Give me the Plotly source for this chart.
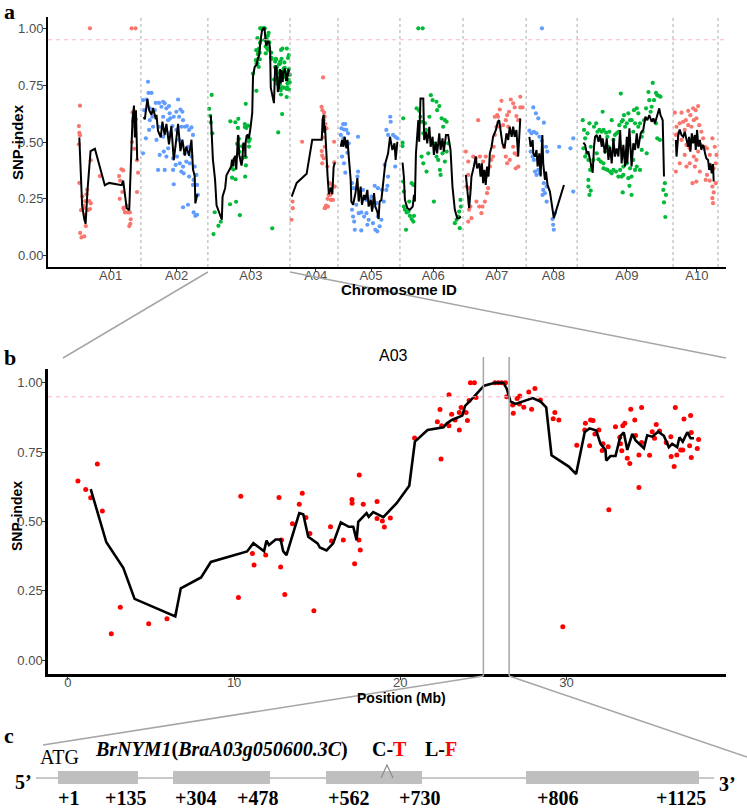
import plotly.graph_objects as go

W, H = 747, 808

# ---------------- data ----------------
chromosomes = ["A01", "A02", "A03", "A04", "A05", "A06", "A07", "A08", "A09", "A10"]
chrom_length_mb = [36.1, 31.0, 38.0, 22.2, 28.7, 29.2, 29.2, 23.6, 44.4, 20.8]
chrom_label_mb = [22.1, 16.5, 19.9, 11.9, 15.3, 15.4, 15.6, 12.6, 23.0, 11.0]
chrom_colors = ["#F8766D", "#619CFF", "#00BA38"]
threshold = 0.95
y_ticks = [0.0, 0.25, 0.5, 0.75, 1.0]

# A03 (panel b, positions in Mb)
b_points = [(0.6, 0.646), (1.07, 0.615), (1.77, 0.707), (1.37, 0.586), (2.07, 0.538), (3.15, 0.191),
            (2.61, 0.095), (4.86, 0.131), (5.96, 0.149), (10.4, 0.591), (10.26, 0.226), (12.7, 0.587),
            (11.1, 0.385), (11.2, 0.343), (11.9, 0.379), (12.8, 0.336), (12.85, 0.433), (13.05, 0.237),
            (14.8, 0.178), (14.1, 0.602), (13.92, 0.562), (13.51, 0.492), (14.32, 0.514), (14.56, 0.457),
            (15.8, 0.481), (15.86, 0.43), (16.57, 0.433), (17.09, 0.579), (17.1, 0.566), (17.53, 0.668),
            (17.77, 0.562), (17.25, 0.348), (17.59, 0.397), (17.51, 0.433), (18.6, 0.572), (18.6, 0.511),
            (18.92, 0.502), (19.04, 0.48), (19.4, 0.513), (20.86, 0.801), (22.45, 0.725), (22.39, 0.904),
            (22.23, 0.86), (22.49, 0.845), (22.93, 0.845), (22.93, 0.957), (23.09, 0.887), (23.3, 0.866),
            (23.55, 0.893), (23.66, 0.911), (23.55, 0.83), (23.96, 0.893), (24.04, 0.864), (24.14, 0.936),
            (24.56, 0.947), (24.22, 1.0), (24.46, 1.0), (25.7, 1.0), (25.9, 1.0), (26.1, 1.0), (26.33, 1.0),
            (26.4, 0.95), (26.76, 0.92), (26.8, 0.89), (27.03, 0.944), (27.19, 0.953), (27.17, 0.924),
            (27.43, 0.912), (27.73, 0.967), (27.9, 0.905), (28.1, 0.98), (28.43, 0.938), (29.3, 0.893),
            (29.2, 0.871), (29.54, 0.866), (29.78, 0.12), (30.62, 0.775), (31.14, 0.854), (31.1, 0.83),
            (31.45, 0.866), (31.6, 0.864), (31.39, 0.773), (31.95, 0.83), (31.71, 0.816), (32.15, 0.756),
            (32.2, 0.78), (32.51, 0.77), (32.55, 0.542), (32.95, 0.842), (33.21, 0.804), (33.39, 0.845),
            (33.51, 0.854), (33.33, 0.755), (33.25, 0.78), (33.66, 0.728), (33.81, 0.709), (33.87, 0.905),
            (34.11, 0.866), (34.16, 0.81), (34.36, 0.74), (34.36, 0.623), (34.52, 0.911), (34.52, 0.785),
            (35.0, 0.739), (35.16, 0.824), (35.4, 0.85), (35.6, 0.826), (35.3, 0.8), (36.0, 0.785),
            (36.28, 0.806), (36.3, 0.734), (36.48, 0.698), (36.55, 0.911), (36.64, 0.74), (36.87, 0.758),
            (37.0, 0.758), (37.07, 0.87), (37.47, 0.882), (37.51, 0.821), (37.41, 0.773), (37.51, 0.731),
            (37.95, 0.796), (37.87, 0.763)]
b_line_pos = [1.37, 2.31, 3.33, 4.01, 6.46, 6.79, 8.01, 8.6, 10.78, 11.16, 11.8, 11.95, 12.1, 12.5, 12.8,
              12.95, 13.15, 13.92, 14.16, 14.46, 15.02, 15.16, 15.56, 15.96, 16.42, 16.9, 17.17, 17.37,
              17.47, 17.97, 18.1, 18.37, 18.98, 19.78, 20.54, 20.88, 21.64, 22.6, 22.8, 23.1, 23.73, 23.9,
              24.3, 25.04, 25.7, 26.2, 26.4, 26.63, 26.93, 27.43, 27.97, 28.43, 28.78, 29.1, 30.14, 30.58,
              31.1, 31.39, 31.79, 32.05, 32.35, 32.39, 32.65, 32.95, 33.25, 33.45, 33.66, 33.96, 34.16,
              34.66, 34.86, 35.16, 35.52, 35.86, 36.16, 36.36, 36.66, 36.8, 37.0, 37.27, 37.47, 37.67]
b_line_val = [0.617, 0.425, 0.333, 0.221, 0.158, 0.259, 0.298, 0.354, 0.392, 0.422, 0.393, 0.431, 0.415,
              0.435, 0.435, 0.393, 0.379, 0.53, 0.526, 0.445, 0.421, 0.406, 0.396, 0.421, 0.497, 0.481,
              0.481, 0.433, 0.499, 0.53, 0.517, 0.534, 0.516, 0.566, 0.629, 0.788, 0.83, 0.84, 0.854,
              0.866, 0.882, 0.917, 0.941, 0.99, 1.0, 1.0, 0.98, 0.933, 0.924, 0.933, 0.945, 0.933, 0.912,
              0.739, 0.698, 0.671, 0.823, 0.836, 0.828, 0.78, 0.758, 0.72, 0.736, 0.736, 0.809, 0.821,
              0.758, 0.816, 0.792, 0.764, 0.811, 0.806, 0.824, 0.809, 0.768, 0.78, 0.768, 0.804, 0.788,
              0.822, 0.8, 0.8]
region_mb = [25.0, 26.55]
b_xticks = [0, 10, 20, 30]

# panel a: points / sliding-window line per chromosome (position within chromosome, Mb)
a01_points = [(12.5, 1.0), (31.8, 1.0), (33.6, 1.0), (7.9, 0.66), (7.4, 0.57), (7.6, 0.54), (7.9, 0.53),
              (7.6, 0.32), (9.4, 0.22), (10.2, 0.18), (8.6, 0.08), (9.9, 0.085), (10.6, 0.13), (10.9, 0.27),
              (11.2, 0.29), (12.2, 0.24), (12.5, 0.205), (12.9, 0.23), (12.9, 0.42), (17.1, 0.35),
              (26.0, 0.35), (27.1, 0.38), (27.9, 0.375), (26.3, 0.25), (28.2, 0.205), (28.7, 0.19),
              (31.0, 0.19), (31.4, 0.16), (30.7, 0.13), (32.2, 0.63), (32.5, 0.59), (33.3, 0.57),
              (34.3, 0.42), (34.8, 0.365), (34.3, 0.28), (7.4, 0.49), (8.0, 0.1), (8.4, 0.2), (9.0, 0.26),
              (9.6, 0.21), (10.3, 0.24), (11.5, 0.2), (26.5, 0.33), (27.5, 0.28), (28.0, 0.21), (29.5, 0.22),
              (30.0, 0.19), (31.2, 0.14), (32.0, 0.5), (33.0, 0.47), (33.8, 0.6)]
a01_line = [(7.6, 0.52), (8.9, 0.22), (9.9, 0.16), (10.5, 0.14), (11.4, 0.29), (12.5, 0.45), (12.8, 0.46),
            (14.8, 0.47), (19.4, 0.31), (21.4, 0.32), (27.2, 0.31), (27.9, 0.33), (28.7, 0.27), (29.5, 0.21),
            (30.7, 0.2), (31.5, 0.41), (32.2, 0.6), (32.9, 0.66), (33.3, 0.52), (33.8, 0.64), (34.4, 0.42)]

a02_points = [(3.3, 0.765), (4.9, 0.716), (3.5, 0.716), (1.0, 0.684), (2.6, 0.687), (1.5, 0.64), (4.1, 0.648),
              (6.9, 0.672), (8.4, 0.672), (10.3, 0.677), (11.0, 0.67), (13.0, 0.658), (17.2, 0.687),
              (16.4, 0.633), (18.3, 0.643), (19.2, 0.633), (2.3, 0.516), (3.8, 0.553), (5.6, 0.567),
              (8.4, 0.567), (10.3, 0.611), (12.6, 0.596), (13.6, 0.604), (14.6, 0.57), (16.4, 0.553),
              (19.5, 0.596), (20.3, 0.567), (21.3, 0.57), (23.4, 0.564), (1.0, 0.45), (8.7, 0.443),
              (10.6, 0.458), (11.8, 0.436), (12.6, 0.472), (14.9, 0.428), (16.1, 0.399), (18.0, 0.406),
              (19.5, 0.392), (21.0, 0.414), (22.6, 0.406), (7.95, 0.377), (11.0, 0.377), (14.9, 0.377),
              (18.7, 0.37), (19.8, 0.362), (15.2, 0.314), (22.3, 0.348), (24.1, 0.311), (25.7, 0.355),
              (26.0, 0.311), (26.4, 0.267), (24.4, 0.333), (19.5, 0.213), (21.8, 0.224), (24.4, 0.19),
              (25.2, 0.175), (26.0, 0.18), (6.4, 0.64), (9.5, 0.655), (11.8, 0.648), (13.3, 0.626),
              (15.2, 0.611), (17.7, 0.611), (18.7, 0.567), (22.3, 0.553), (24.1, 0.531), (13.3, 0.538),
              (17.7, 0.509), (21.8, 0.479), (7.2, 0.509), (4.1, 0.596), (5.3, 0.611), (10.3, 0.523),
              (16.7, 0.436), (20.3, 0.45), (23.4, 0.436), (24.9, 0.392)]
a02_line = [(1.3, 0.61), (1.8, 0.6), (3.0, 0.69), (3.8, 0.64), (4.9, 0.62), (5.6, 0.65), (6.9, 0.6), (7.2, 0.62),
            (7.9, 0.55), (9.2, 0.52), (9.95, 0.59), (11.0, 0.53), (11.8, 0.58), (13.0, 0.49), (14.1, 0.57),
            (15.2, 0.42), (16.1, 0.49), (17.2, 0.58), (18.3, 0.46), (19.2, 0.51), (20.3, 0.44), (21.0, 0.48),
            (22.3, 0.44), (23.4, 0.51), (24.1, 0.38), (24.9, 0.35), (25.2, 0.23), (26.1, 0.27)]

a03_points = b_points
a03_line = list(zip(b_line_pos, b_line_val))

a04_points = [(15.3, 0.784), (5.6, 0.501), (1.2, 0.238), (0.7, 0.158), (1.3, 0.209), (14.6, 0.655),
              (15.0, 0.64), (15.8, 0.629), (16.1, 0.611), (15.6, 0.596), (16.4, 0.579), (16.9, 0.56),
              (16.1, 0.479), (15.6, 0.428), (14.9, 0.406), (20.4, 0.501), (17.3, 0.392), (18.4, 0.319),
              (19.5, 0.311), (20.7, 0.304), (18.9, 0.275), (17.9, 0.267), (16.1, 0.209), (17.6, 0.216),
              (18.9, 0.245), (19.9, 0.245), (18.6, 0.267), (14.7, 0.46), (14.9, 0.44), (15.2, 0.52),
              (20.5, 0.41), (16.3, 0.21), (16.7, 0.22), (17.4, 0.25)]
a04_line = [(0.8, 0.26), (3.1, 0.32), (7.7, 0.36), (10.3, 0.51), (14.7, 0.51), (15.1, 0.6), (15.6, 0.62),
            (15.9, 0.54), (16.2, 0.57), (16.7, 0.45), (17.4, 0.35), (18.0, 0.27), (19.0, 0.3), (19.6, 0.27),
            (20.2, 0.39), (20.8, 0.41)]

a05_points = [(2.4, 0.579), (3.4, 0.579), (1.6, 0.56), (2.8, 0.555), (3.9, 0.553), (1.3, 0.531), (2.5, 0.516),
              (3.1, 0.494), (4.7, 0.538), (5.0, 0.494), (4.4, 0.453), (2.8, 0.406), (3.4, 0.365), (1.9, 0.436),
              (9.3, 0.523), (6.5, 0.319), (7.1, 0.297), (6.5, 0.202), (7.0, 0.172), (7.5, 0.15), (7.8, 0.114),
              (10.8, 0.111), (9.0, 0.348), (9.3, 0.37), (9.6, 0.187), (10.8, 0.19), (12.1, 0.172),
              (13.2, 0.187), (14.2, 0.158), (13.6, 0.136), (16.2, 0.143), (17.3, 0.114), (18.2, 0.107),
              (18.5, 0.172), (20.1, 0.158), (19.3, 0.129), (17.0, 0.307), (18.5, 0.297), (20.4, 0.289),
              (21.2, 0.238), (22.4, 0.289), (22.9, 0.307), (23.2, 0.348), (21.6, 0.399), (22.4, 0.553),
              (23.2, 0.531), (24.2, 0.611), (24.4, 0.589), (25.5, 0.531), (26.5, 0.523), (27.5, 0.516),
              (26.5, 0.392), (12.4, 0.253), (13.2, 0.245), (14.7, 0.245), (15.5, 0.26), (17.8, 0.231),
              (16.2, 0.216), (8.5, 0.224), (11.6, 0.289)]
a05_line = [(1.3, 0.479), (1.9, 0.509), (2.5, 0.479), (3.1, 0.523), (3.9, 0.472), (4.4, 0.509), (5.0, 0.436),
            (5.9, 0.333), (6.2, 0.238), (7.0, 0.224), (8.1, 0.275), (9.0, 0.341), (9.6, 0.238), (10.5, 0.304),
            (11.1, 0.224), (12.1, 0.267), (12.7, 0.245), (13.6, 0.289), (14.2, 0.216), (15.2, 0.245),
            (15.8, 0.194), (16.7, 0.275), (17.3, 0.216), (18.2, 0.194), (18.8, 0.161), (19.3, 0.238),
            (20.1, 0.245), (21.3, 0.362), (21.9, 0.406), (23.2, 0.45), (24.1, 0.523), (25.2, 0.465),
            (26.2, 0.494), (26.7, 0.421), (27.5, 0.501)]

a06_points = [(8.5, 1.0), (10.5, 1.0), (1.5, 0.604), (1.2, 0.497), (1.2, 0.482), (1.5, 0.326), (1.8, 0.282),
              (1.8, 0.216), (2.3, 0.202), (3.1, 0.19), (3.9, 0.194), (4.6, 0.175), (5.4, 0.161), (6.2, 0.15),
              (6.5, 0.175), (2.8, 0.114), (4.3, 0.238), (5.4, 0.319), (6.2, 0.311), (7.7, 0.648), (8.9, 0.637),
              (9.5, 0.611), (10.0, 0.589), (10.8, 0.538), (11.6, 0.582), (12.0, 0.553), (12.6, 0.523),
              (13.6, 0.611), (14.3, 0.706), (15.1, 0.684), (16.9, 0.677), (17.2, 0.64), (18.2, 0.658),
              (19.3, 0.604), (20.0, 0.567), (20.8, 0.596), (21.6, 0.589), (15.4, 0.494), (16.2, 0.479),
              (16.9, 0.436), (17.7, 0.421), (18.5, 0.377), (18.8, 0.355), (19.7, 0.45), (20.8, 0.414),
              (21.6, 0.458), (22.3, 0.494), (13.1, 0.45), (12.3, 0.37), (10.8, 0.406), (10.0, 0.436),
              (15.7, 0.238), (25.4, 0.143), (26.2, 0.158), (27.0, 0.172), (27.7, 0.121), (27.4, 0.194),
              (28.0, 0.245), (28.2, 0.216)]
a06_line = [(1.2, 0.409), (1.8, 0.348), (2.3, 0.245), (3.4, 0.209), (4.6, 0.202), (5.9, 0.216), (6.5, 0.267),
            (6.9, 0.238), (7.4, 0.45), (8.0, 0.553), (8.5, 0.596), (8.9, 0.501), (9.5, 0.691), (10.8, 0.691),
            (11.2, 0.509), (12.0, 0.545), (12.6, 0.494), (13.6, 0.567), (14.2, 0.479), (15.1, 0.523),
            (15.7, 0.443), (16.6, 0.501), (17.2, 0.45), (18.2, 0.538), (18.8, 0.465), (19.7, 0.516),
            (20.3, 0.458), (21.3, 0.531), (22.3, 0.531), (23.4, 0.465), (24.3, 0.304), (25.4, 0.202),
            (26.5, 0.165), (27.4, 0.165), (28.2, 0.172)]

a07_points = [(7.0, 0.596), (1.3, 0.458), (2.4, 0.414), (2.4, 0.355), (1.6, 0.304), (3.1, 0.297), (3.4, 0.216),
              (2.8, 0.202), (3.9, 0.165), (2.4, 0.15), (4.7, 0.436), (5.9, 0.428), (7.8, 0.436), (8.7, 0.37),
              (9.3, 0.414), (10.5, 0.436), (10.8, 0.348), (11.1, 0.275), (11.6, 0.297), (10.1, 0.238),
              (9.0, 0.216), (8.5, 0.187), (7.5, 0.216), (6.2, 0.238), (12.4, 0.392), (13.0, 0.421),
              (13.9, 0.436), (14.2, 0.479), (14.7, 0.531), (15.5, 0.567), (16.2, 0.611), (17.0, 0.643),
              (17.8, 0.681), (18.5, 0.574), (19.8, 0.596), (20.4, 0.618), (21.3, 0.633), (22.1, 0.687),
              (23.2, 0.67), (23.9, 0.652), (24.7, 0.614), (25.5, 0.596), (26.5, 0.652), (27.5, 0.652),
              (26.5, 0.699), (18.8, 0.479), (19.8, 0.436), (20.4, 0.406), (21.6, 0.421), (23.2, 0.479),
              (23.9, 0.45), (25.0, 0.443), (25.6, 0.392), (24.4, 0.384), (14.7, 0.611), (15.8, 0.618),
              (17.0, 0.567), (20.9, 0.567), (23.2, 0.545)]
a07_line = [(1.3, 0.355), (2.1, 0.275), (2.8, 0.209), (3.4, 0.275), (3.9, 0.348), (5.0, 0.392), (5.9, 0.436),
            (6.5, 0.384), (7.5, 0.406), (8.1, 0.348), (8.7, 0.406), (9.3, 0.319), (9.9, 0.377), (10.5, 0.311),
            (11.1, 0.392), (11.8, 0.348), (12.4, 0.45), (13.2, 0.479), (13.9, 0.523), (15.2, 0.553),
            (16.1, 0.589), (16.7, 0.596), (17.3, 0.56), (18.2, 0.494), (19.2, 0.472), (20.1, 0.538),
            (20.9, 0.509), (21.6, 0.567), (22.5, 0.523), (23.2, 0.567), (23.9, 0.523), (24.7, 0.553),
            (25.5, 0.436), (26.5, 0.604)]

a08_points = [(7.3, 1.0), (3.3, 0.652), (4.5, 0.626), (5.6, 0.604), (8.2, 0.585), (1.5, 0.55), (2.5, 0.538),
              (3.6, 0.545), (4.8, 0.538), (6.1, 0.523), (7.2, 0.506), (9.2, 0.479), (9.8, 0.458), (2.1, 0.458),
              (3.0, 0.436), (3.6, 0.421), (4.1, 0.37), (4.8, 0.355), (5.6, 0.377), (6.4, 0.362), (8.2, 0.319),
              (9.5, 0.304), (7.9, 0.289), (8.7, 0.275), (9.5, 0.238), (7.6, 0.267), (12.2, 0.161),
              (12.5, 0.136), (12.8, 0.114), (13.3, 0.187), (15.3, 0.479), (20.5, 0.472), (21.8, 0.516),
              (21.8, 0.282)]
a08_line = [(1.5, 0.523), (2.1, 0.479), (3.0, 0.509), (3.3, 0.45), (4.1, 0.436), (4.8, 0.465), (5.3, 0.392),
            (6.1, 0.45), (6.7, 0.348), (7.5, 0.531), (7.9, 0.406), (8.7, 0.333), (9.2, 0.37), (9.9, 0.311),
            (11.0, 0.282), (12.2, 0.202), (12.8, 0.165), (17.5, 0.311)]

a09_points = [(2.6, 0.596), (3.2, 0.553), (3.7, 0.516), (4.8, 0.538), (5.7, 0.582), (6.3, 0.479), (5.2, 0.421),
              (4.5, 0.45), (3.7, 0.436), (2.9, 0.472), (6.0, 0.377), (5.2, 0.304), (6.3, 0.286), (5.7, 0.267),
              (7.8, 0.567), (8.8, 0.582), (9.4, 0.545), (10.3, 0.553), (11.4, 0.545), (12.2, 0.553),
              (12.9, 0.458), (13.4, 0.541), (14.0, 0.523), (14.9, 0.545), (16.0, 0.596), (11.8, 0.633),
              (17.5, 0.531), (16.8, 0.509), (19.1, 0.545), (20.2, 0.713), (19.5, 0.574), (20.6, 0.589),
              (21.1, 0.596), (21.7, 0.618), (22.2, 0.567), (23.0, 0.582), (23.7, 0.626), (24.5, 0.596),
              (25.2, 0.596), (26.3, 0.64), (27.6, 0.648), (28.3, 0.626), (26.0, 0.545), (26.8, 0.582),
              (29.1, 0.582), (30.3, 0.545), (31.0, 0.596), (31.9, 0.648), (33.0, 0.72), (33.4, 0.684),
              (34.0, 0.633), (35.0, 0.76), (35.6, 0.684), (36.5, 0.716), (37.1, 0.706), (38.0, 0.702),
              (38.6, 0.699), (34.5, 0.655), (36.5, 0.582), (37.1, 0.516), (38.3, 0.509), (32.2, 0.45),
              (29.9, 0.465), (29.1, 0.377), (27.6, 0.392), (26.0, 0.421), (24.5, 0.384), (23.0, 0.406),
              (21.4, 0.392), (19.9, 0.377), (18.0, 0.37), (16.8, 0.377), (16.0, 0.362), (15.2, 0.37),
              (14.0, 0.377), (13.4, 0.38), (12.2, 0.406), (10.9, 0.414), (9.9, 0.424), (9.1, 0.45),
              (7.5, 0.421), (6.8, 0.392), (5.2, 0.333), (19.1, 0.348), (20.6, 0.348), (21.4, 0.355),
              (23.7, 0.341), (25.2, 0.348), (26.8, 0.377), (24.2, 0.307), (21.1, 0.278), (25.2, 0.267),
              (40.6, 0.319), (39.9, 0.289), (41.1, 0.267), (40.2, 0.234), (40.8, 0.17), (12.2, 0.384),
              (14.5, 0.479), (18.3, 0.538), (28.3, 0.567), (29.9, 0.523)]
a09_line = [(2.9, 0.497), (3.7, 0.487), (4.5, 0.45), (5.2, 0.458), (6.3, 0.406), (7.2, 0.365), (7.8, 0.479),
            (8.3, 0.523), (9.1, 0.531), (9.9, 0.501), (10.6, 0.531), (11.4, 0.479), (11.8, 0.516),
            (12.9, 0.45), (13.7, 0.516), (14.5, 0.421), (15.2, 0.479), (16.0, 0.406), (16.8, 0.516),
            (17.5, 0.436), (18.3, 0.472), (19.1, 0.436), (19.9, 0.553), (20.6, 0.406), (21.4, 0.487),
            (22.2, 0.392), (23.0, 0.523), (23.2, 0.406), (24.2, 0.56), (25.2, 0.392), (26.0, 0.494),
            (26.8, 0.465), (27.6, 0.538), (28.3, 0.472), (29.4, 0.538), (30.6, 0.553), (31.6, 0.611),
            (32.5, 0.596), (33.4, 0.618), (34.5, 0.589), (35.3, 0.604), (36.0, 0.582), (37.1, 0.618),
            (38.0, 0.648), (38.6, 0.618), (39.6, 0.596), (40.2, 0.348)]

a10_points = [(0.8, 0.629), (3.9, 0.629), (7.0, 0.637), (9.3, 0.648), (11.6, 0.658), (10.5, 0.64), (8.0, 0.618),
              (5.9, 0.596), (4.7, 0.589), (3.1, 0.582), (1.6, 0.567), (2.4, 0.538), (5.4, 0.553), (7.0, 0.574),
              (8.5, 0.567), (9.6, 0.596), (10.8, 0.604), (12.1, 0.574), (13.1, 0.545), (1.3, 0.531),
              (3.9, 0.509), (6.2, 0.487), (7.7, 0.472), (9.6, 0.436), (10.8, 0.421), (11.6, 0.458),
              (12.7, 0.487), (13.9, 0.516), (14.7, 0.479), (15.7, 0.472), (17.0, 0.443), (18.2, 0.516),
              (19.3, 0.479), (20.1, 0.443), (19.8, 0.406), (18.8, 0.384), (1.3, 0.37), (3.1, 0.406),
              (5.4, 0.443), (7.7, 0.406), (10.1, 0.392), (12.4, 0.37), (15.7, 0.355), (15.1, 0.333),
              (17.0, 0.33), (18.2, 0.304), (18.8, 0.278), (18.2, 0.253), (18.5, 0.231), (19.8, 0.319),
              (9.0, 0.319), (6.2, 0.392), (10.8, 0.326)]
a10_line = [(1.3, 0.509), (1.6, 0.436), (2.4, 0.531), (3.1, 0.555), (3.9, 0.531), (4.7, 0.523), (5.4, 0.545),
            (6.2, 0.509), (7.0, 0.479), (7.4, 0.523), (8.0, 0.458), (8.7, 0.538), (9.3, 0.494), (10.1, 0.531),
            (10.5, 0.465), (11.1, 0.553), (11.7, 0.479), (12.4, 0.509), (13.1, 0.465), (13.6, 0.487),
            (14.2, 0.479), (14.8, 0.45), (15.4, 0.428), (16.2, 0.421), (16.7, 0.377), (17.3, 0.406),
            (17.9, 0.362), (18.5, 0.403), (18.8, 0.326)]

chrom_points = [a01_points, a02_points, a03_points, a04_points, a05_points,
                a06_points, a07_points, a08_points, a09_points, a10_points]
chrom_lines = [a01_line, a02_line, a03_line, a04_line, a05_line,
               a06_line, a07_line, a08_line, a09_line, a10_line]

# panel c gene model
gene_label = "<b><i>BrNYM1</i>(<i>BraA03g050600.3C</i>)</b>"
exon_start_labels = ["+1", "+304", "+562", "+806"]
exon_end_labels = ["+135", "+478", "+730", "+1125"]

# ---------------- layout helpers ----------------
def PX(x):
    return x / W

def PY(y):
    return 1 - y / H

SANS = "Liberation Sans, Arial, sans-serif"
SERIF = "Liberation Serif, Times New Roman, serif"
TICK_GREY = "#4d4d4d"
LINE_GREY = "#a6a6a6"

offsets = []
acc = 0.0
for L in chrom_length_mb:
    offsets.append(acc)
    acc += L

a_xrange = [-6.9, 306.9]
a_xdom = [PX(48), PX(726)]
a_ydom = [PY(267), PY(17)]
b_xrange = [-1.2, 39.6]
b_xdom = [PX(48), PX(726)]
b_ydom = [PY(674), PY(369)]
y_range = [-0.05, 1.05]

def ax_paper(v):
    return a_xdom[0] + (v - a_xrange[0]) / (a_xrange[1] - a_xrange[0]) * (a_xdom[1] - a_xdom[0])

def bx_paper(v):
    return b_xdom[0] + (v - b_xrange[0]) / (b_xrange[1] - b_xrange[0]) * (b_xdom[1] - b_xdom[0])

fig = go.Figure()

# panel a points
for i, pts in enumerate(chrom_points):
    fig.add_trace(go.Scatter(
        x=[offsets[i] + p for p, _ in pts], y=[v for _, v in pts],
        mode="markers", marker=dict(size=4.2, color=chrom_colors[i % 3], line=dict(width=0)),
        xaxis="x", yaxis="y", hoverinfo="skip"))
# panel a lines
lx, ly = [], []
for i, ln in enumerate(chrom_lines):
    lx += [offsets[i] + p for p, _ in ln] + [None]
    ly += [v for _, v in ln] + [None]
fig.add_trace(go.Scatter(x=lx, y=ly, mode="lines", line=dict(color="black", width=2),
                         xaxis="x", yaxis="y", connectgaps=False, hoverinfo="skip"))

# panel b
fig.add_trace(go.Scatter(x=[p for p, _ in b_points], y=[v for _, v in b_points], mode="markers",
                         marker=dict(size=5, color="#ff0000", line=dict(width=0)),
                         xaxis="x2", yaxis="y2", hoverinfo="skip"))
fig.add_trace(go.Scatter(x=b_line_pos, y=b_line_val, mode="lines", line=dict(color="black", width=2.6),
                         xaxis="x2", yaxis="y2", hoverinfo="skip"))

shapes = []
# chromosome separators
for i in range(len(chromosomes)):
    end = offsets[i] + chrom_length_mb[i]
    shapes.append(dict(type="line", xref="x", yref="y domain", x0=end, x1=end, y0=0, y1=1,
                       line=dict(color="#b3b3b3", width=1.1, dash="3px,3px")))
# thresholds
shapes.append(dict(type="line", xref="x domain", yref="y", x0=0, x1=1, y0=threshold, y1=threshold,
                   line=dict(color="#ffb6c1", width=1.1, dash="4px,4px")))
shapes.append(dict(type="line", xref="x2 domain", yref="y2", x0=0, x1=1, y0=threshold, y1=threshold,
                   line=dict(color="#ffb6c1", width=1.1, dash="4px,4px")))
# zoom connectors a -> b
a03_start = offsets[2]
a03_end = offsets[2] + chrom_length_mb[2]
shapes.append(dict(type="line", xref="paper", yref="paper", x0=ax_paper(a03_start), y0=PY(272),
                   x1=PX(63), y1=PY(358), line=dict(color=LINE_GREY, width=1.5)))
shapes.append(dict(type="line", xref="paper", yref="paper", x0=ax_paper(a03_end), y0=PY(272),
                   x1=PX(726), y1=PY(358), line=dict(color=LINE_GREY, width=1.5)))
# region lines in b and connectors b -> c
for r in region_mb:
    shapes.append(dict(type="line", xref="x2", yref="paper", x0=r, x1=r, y0=PY(676), y1=PY(357),
                       line=dict(color=LINE_GREY, width=1.5)))
shapes.append(dict(type="line", xref="paper", yref="paper", x0=bx_paper(region_mb[0]), y0=PY(676),
                   x1=PX(43), y1=PY(745), line=dict(color=LINE_GREY, width=1.5)))
shapes.append(dict(type="line", xref="paper", yref="paper", x0=bx_paper(region_mb[1]), y0=PY(676),
                   x1=PX(747), y1=PY(757), line=dict(color=LINE_GREY, width=1.5)))

# gene model
gene_y = 778
shapes.append(dict(type="line", xref="paper", yref="paper", x0=PX(36), x1=PX(714), y0=PY(gene_y), y1=PY(gene_y),
                   line=dict(color="#c8c8c8", width=2)))
exon_px = [(58, 138), (173, 270), (326, 422), (526, 699)]
for (x0, x1) in exon_px:
    shapes.append(dict(type="rect", xref="paper", yref="paper", x0=PX(x0), x1=PX(x1),
                       y0=PY(gene_y + 6), y1=PY(gene_y - 7), fillcolor="#bfbfbf", line=dict(width=0)))
shapes.append(dict(type="path", xref="paper", yref="paper",
                   path=f"M {PX(381)},{PY(778)} L {PX(387)},{PY(765)} L {PX(393)},{PY(778)}",
                   line=dict(color="#8c8c8c", width=1.2)))

ann = []
def text(x, y, s, size, family=SANS, color="black", bold=False, angle=0, xanchor="center", yanchor="middle"):
    ann.append(dict(x=PX(x), y=PY(y), xref="paper", yref="paper", text=(f"<b>{s}</b>" if bold else s),
                    showarrow=False, font=dict(family=family, size=size, color=color), textangle=angle,
                    xanchor=xanchor, yanchor=yanchor))

text(2, 11, "a", 22, family=SERIF, bold=True, xanchor="left")
text(2, 358, "b", 22, family=SERIF, bold=True, xanchor="left")
text(2, 735, "c", 22, family=SERIF, bold=True, xanchor="left")
text(18, 142, "SNP-index", 15, bold=True, angle=-90)
text(399, 289, "Chromosome ID", 15, bold=True)
text(17, 516, "SNP-index", 14, bold=True, angle=-90)
text(401, 698, "Position (Mb)", 14, bold=True)
text(393, 355, "A03", 16)
# panel c texts
text(59, 757, "ATG", 20, family=SERIF)
text(222, 749, gene_label, 20, family=SERIF)
text(389, 749, "C-<span style='color:#ff0000'>T</span>", 20, family=SERIF, bold=True)
text(441, 749, "L-<span style='color:#ff0000'>F</span>", 20, family=SERIF, bold=True)
text(24, 782, "5’", 20, family=SERIF, bold=True)
text(727, 784, "3’", 20, family=SERIF, bold=True)
start_px = [68, 195, 348, 557]
end_px = [125, 257, 419, 681]
for s, x in zip(exon_start_labels, start_px):
    text(x, 798, s, 20, family=SERIF, bold=True)
for s, x in zip(exon_end_labels, end_px):
    text(x, 798, s, 20, family=SERIF, bold=True)

axis_common = dict(showgrid=False, zeroline=False, showline=True, linecolor="black",
                   ticks="outside", ticklen=3, tickcolor="#333333", tickwidth=1)
x_tick_font = dict(family=SANS, size=13, color=TICK_GREY)

fig.update_layout(
    width=W, height=H, margin=dict(l=0, r=0, t=0, b=0),
    paper_bgcolor="white", plot_bgcolor="white", showlegend=False,
    xaxis=dict(domain=a_xdom, range=a_xrange, anchor="y", linewidth=2, ticklabelstandoff=-8,
               tickvals=[offsets[i] + chrom_label_mb[i] for i in range(len(chromosomes))],
               ticktext=chromosomes, tickfont=x_tick_font, **axis_common),
    yaxis=dict(domain=a_ydom, range=y_range, anchor="x", linewidth=2, ticklabelstandoff=-3,
               tickvals=y_ticks, ticktext=[f"{t:.2f}" for t in y_ticks],
               tickfont=x_tick_font, **axis_common),
    xaxis2=dict(domain=b_xdom, range=b_xrange, anchor="y2", linewidth=2.5, ticklabelstandoff=-8,
                tickvals=b_xticks, ticktext=[str(t) for t in b_xticks],
                tickfont=x_tick_font, **axis_common),
    yaxis2=dict(domain=b_ydom, range=y_range, anchor="x2", linewidth=2.5, ticklabelstandoff=-3,
                tickvals=y_ticks, ticktext=[f"{t:.2f}" for t in y_ticks],
                tickfont=x_tick_font, **axis_common),
    shapes=shapes, annotations=ann,
)

fig.write_html("out.html", config={"displayModeBar": False},
               post_script="document.body.style.margin='0';document.body.style.overflow='hidden';")
